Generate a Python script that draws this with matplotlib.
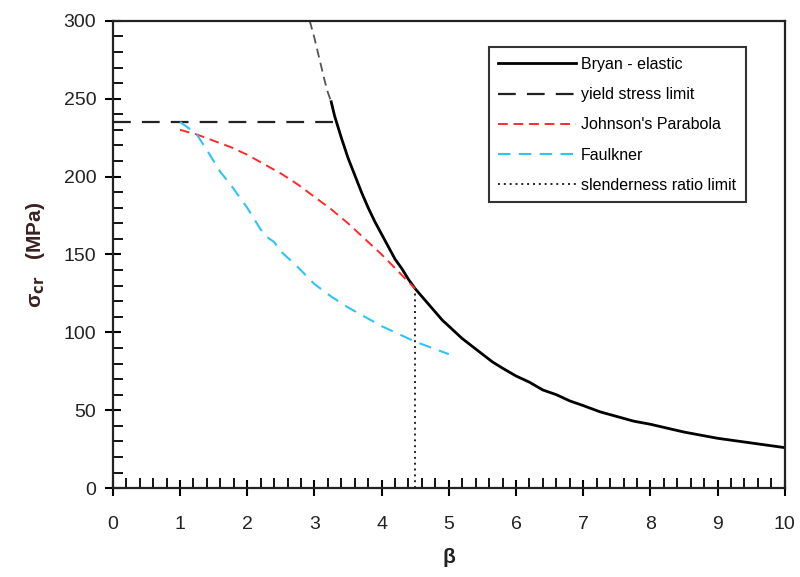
#!/usr/bin/env python3
"""Critical buckling stress vs plate slenderness: Bryan, Johnson, Faulkner."""

import matplotlib
matplotlib.use("Agg")
import matplotlib.pyplot as plt
from matplotlib.ticker import MultipleLocator

plt.rcParams["font.family"] = ["Liberation Sans", "DejaVu Sans"]

# Bryan elastic curve (dashed above yield, solid below)
bryan_beta_hi = [2.93, 3.0, 3.05, 3.1, 3.15, 3.2, 3.25]
bryan_sig_hi = [300, 289, 280, 271, 262, 254, 248]
bryan_beta = [3.25, 3.3, 3.4, 3.5, 3.6, 3.7, 3.8, 3.9, 4.0, 4.1, 4.2, 4.3,
              4.4, 4.5, 4.6, 4.7, 4.8, 4.9, 5.0, 5.1, 5.2, 5.35, 5.5, 5.65,
              5.8, 6.0, 6.2, 6.4, 6.6, 6.8, 7.0, 7.25, 7.5, 7.75, 8.0, 8.5,
              9.0, 9.5, 10.0]
bryan_sig = [248, 239, 225, 212, 201, 190, 180, 171, 163, 155, 147, 141,
             134, 128, 123, 118, 113, 108, 104, 100, 96, 91, 86, 81,
             77, 72, 68, 63, 60, 56, 53, 49, 46, 43, 41, 36,
             32, 29, 26]

# yield stress limit
yield_beta = [0, 3.3]
yield_sig = [235, 235]

# Johnson's parabola
johnson_beta = [1.0, 1.25, 1.5, 1.75, 2.0, 2.25, 2.5, 2.75, 3.0, 3.25,
                3.5, 3.75, 4.0, 4.25, 4.5]
johnson_sig = [230, 227, 223, 219, 214, 208, 202, 195, 187, 179,
               170, 160, 150, 139, 128]

# Faulkner
faulk_beta = [1.0, 1.1, 1.25, 1.4, 1.5, 1.6, 1.75, 1.9, 2.0, 2.1, 2.2, 2.3,
              2.4, 2.5, 2.6, 2.75, 3.0, 3.25, 3.5, 3.75, 4.0, 4.25, 4.5,
              4.75, 5.0]
faulk_sig = [235, 232, 227, 217, 210, 203, 195, 186, 180, 173, 166, 161,
             158, 152, 148, 142, 131, 123, 116, 110, 104, 99, 94,
             90, 86]

# slenderness ratio limit
slender_beta = [4.5, 4.5]
slender_sig = [0, 128]


def main():
    fig = plt.figure(figsize=(8, 5.77), dpi=100)
    ax = fig.add_axes([0.141, 0.154, 0.840, 0.810])

    ax.plot(bryan_beta_hi, bryan_sig_hi, color="#555555", lw=1.3,
            ls=(0, (5, 3)))
    ax.plot(bryan_beta, bryan_sig, color="black", lw=2.0,
            label="Bryan - elastic")
    ax.plot(yield_beta, yield_sig, color="#222222", lw=1.6,
            ls=(0, (8, 5)), label="yield stress limit")
    ax.plot(johnson_beta, johnson_sig, color="#ff2a2a", lw=1.4,
            ls=(0, (5, 3)), label="Johnson's Parabola")
    ax.plot(faulk_beta, faulk_sig, color="#30c4f5", lw=1.5,
            ls=(0, (6, 4)), label="Faulkner")
    ax.plot(slender_beta, slender_sig, color="#222222", lw=1.4,
            ls=(0, (1, 2)), label="slenderness ratio limit")

    ax.set_xlim(0, 10)
    ax.set_ylim(0, 300)
    ax.xaxis.set_major_locator(MultipleLocator(1))
    ax.xaxis.set_minor_locator(MultipleLocator(0.2))
    ax.yaxis.set_major_locator(MultipleLocator(50))
    ax.yaxis.set_minor_locator(MultipleLocator(10))
    ax.tick_params(which="major", direction="inout", length=12, width=1.5,
                   labelsize=14, labelcolor="#222222")
    ax.tick_params(axis="x", which="major", pad=14)
    ax.tick_params(axis="y", which="major", pad=6)
    ax.tick_params(which="minor", direction="in", length=7, width=1.3)
    for s in ax.spines.values():
        s.set_linewidth(1.6)
        s.set_color("#222222")

    ax.set_xlabel(r"β", fontsize=15, fontweight="bold", color="#222222",
                  labelpad=11)
    ax.set_ylabel(r"σ$_\mathbf{cr}$   (MPa)", fontsize=15, fontweight="bold",
                  color="#3a2222", labelpad=12)

    leg = ax.legend(loc="upper right", bbox_to_anchor=(0.954, 0.96),
                    fontsize=11.5, frameon=True, fancybox=False,
                    edgecolor="black", handlelength=4.9, handletextpad=0.3,
                    labelspacing=0.95, borderpad=0.6)
    leg.get_frame().set_linewidth(1.5)

    fig.savefig("out.png", dpi=100)
    plt.close(fig)


if __name__ == "__main__":
    main()
